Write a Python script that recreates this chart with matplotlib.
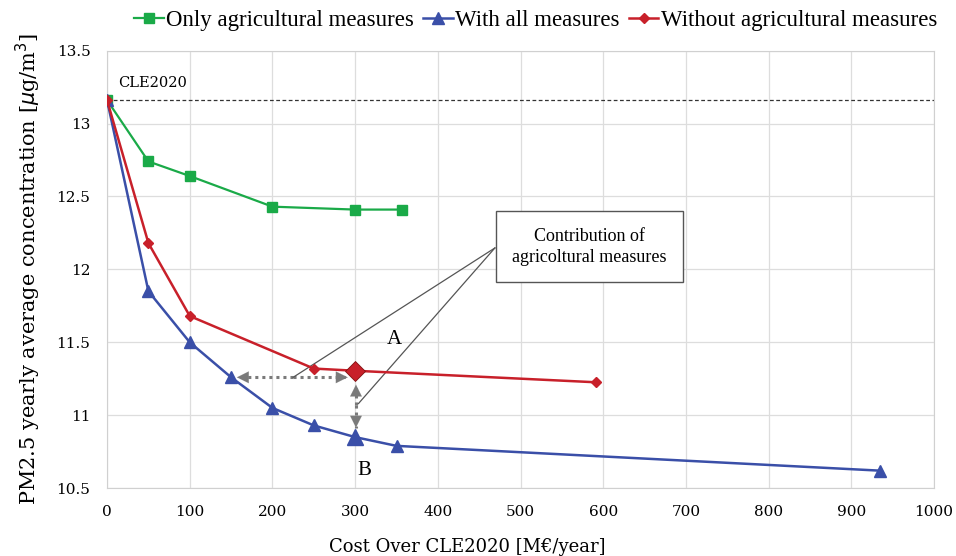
import matplotlib.pyplot as plt
import numpy as np

# data
cost_agri = [0, 50, 100, 200, 300, 357]
pm_agri = [13.16, 12.74, 12.64, 12.43, 12.41, 12.41]

cost_all = [0, 50, 100, 150, 200, 250, 300, 350, 935]
pm_all = [13.16, 11.85, 11.50, 11.26, 11.05, 10.93, 10.85, 10.79, 10.62]

cost_noagri = [0, 50, 100, 250, 300, 591]
pm_noagri = [13.16, 12.18, 11.68, 11.32, 11.305, 11.226]

cle2020 = 13.16

plt.rcParams['font.family'] = ['DejaVu Serif']

green = '#1aaa48'
blue = '#3a4fa8'
red = '#c8202a'
grey = '#7a7a7a'


def dotted_arrow(ax, start, end):
    """dotted gray line with a solid head at the end"""
    ax.plot([start[0], end[0]], [start[1], end[1]], color=grey, lw=2.2,
            ls=(0, (1, 1.3)), zorder=2)
    # short segment just before the end carries the head
    x0 = end[0] + (start[0] - end[0]) * 0.02
    y0 = end[1] + (start[1] - end[1]) * 0.02
    ax.annotate('', xy=end, xytext=(x0, y0),
                arrowprops=dict(arrowstyle='-|>,head_length=0.6,head_width=0.3',
                                color=grey, lw=0.1, shrinkA=0, shrinkB=0,
                                mutation_scale=14))


fig = plt.figure(figsize=(9.56, 5.56), dpi=100)
ax = fig.add_axes([0.112, 0.122, 0.865, 0.787])

ax.plot(cost_agri, pm_agri, color=green, marker='s', ms=7.5, lw=1.6,
        label='Only agricultural measures', zorder=3)
ax.plot(cost_all, pm_all, color=blue, marker='^', ms=8, lw=1.8,
        label='With all measures', zorder=3)
ax.plot(cost_noagri, pm_noagri, color=red, marker='D', ms=5.5, lw=1.8,
        label='Without agricultural measures', zorder=3)

# highlighted points at 300
ax.plot([cost_noagri[4]], [pm_noagri[4]], marker='D', color=red, ms=10,
        zorder=4, markeredgecolor='#801010', markeredgewidth=0.6)
ax.plot([cost_all[6]], [pm_all[6]], marker='^', color=blue, ms=11, zorder=4)

ax.axhline(cle2020, color='#333333', lw=0.9, ls=(0, (3, 2)), zorder=2)
ax.text(13, 13.28, 'CLE2020', fontsize=10.5, va='center', ha='left')

# dotted double arrows
dotted_arrow(ax, (225, 11.26), (157, 11.26))
dotted_arrow(ax, (225, 11.26), (291, 11.26))
dotted_arrow(ax, (301, 11.07), (301, 11.21))
dotted_arrow(ax, (301, 11.07), (301, 10.915))

# callout box
ax.text(583, 12.156, 'Contribution of\nagricoltural measures', fontsize=13,
        ha='center', va='center', family='Liberation Serif', linespacing=1.3,
        bbox=dict(boxstyle='square,pad=0.9', fc='white', ec='#555555', lw=1))
ax.plot([469, 225], [12.147, 11.26], color='#555555', lw=0.9, zorder=2)
ax.plot([469, 304], [12.147, 11.08], color='#555555', lw=0.9, zorder=2)

ax.text(348, 11.52, 'A', fontsize=15, ha='center', va='center',
        family='Liberation Serif')
ax.text(311, 10.62, 'B', fontsize=15, ha='center', va='center',
        family='Liberation Serif')

ax.set_xlim(0, 1000)
ax.set_ylim(10.5, 13.5)
ax.set_xticks(np.arange(0, 1001, 100))
ax.set_yticks(np.arange(10.5, 13.51, 0.5))
ax.set_yticklabels(['10.5', '11', '11.5', '12', '12.5', '13', '13.5'])
ax.tick_params(labelsize=11, length=0, pad=12)
ax.grid(color='#dddddd', lw=0.9)
ax.set_axisbelow(True)
for s in ax.spines.values():
    s.set_color('#d0d0d0')

ax.set_xlabel('Cost Over CLE2020 [M€/year]', fontsize=13, labelpad=14,
              x=0.435)
ax.set_ylabel(r'PM2.5 yearly average concentration [$\mu$g/m$^3$]',
              fontsize=15, labelpad=10)

ax.legend(loc='lower center', bbox_to_anchor=(0.518, 1.009), ncol=3,
          frameon=False, handlelength=1.3, handletextpad=0.1,
          columnspacing=0.4, borderaxespad=0.3,
          prop={'family': 'Liberation Serif', 'size': 16.5})

fig.savefig('out.png', dpi=100)
